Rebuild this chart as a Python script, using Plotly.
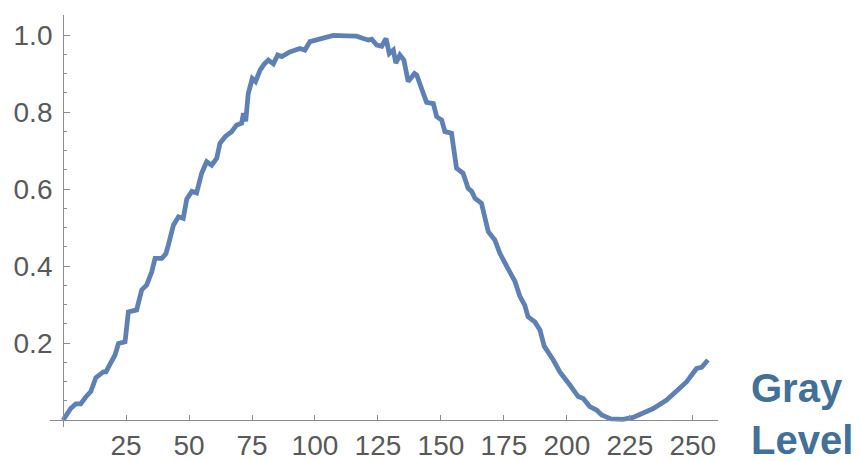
import plotly.graph_objects as go

# Normalized response versus gray level
gray_level = [0, 3, 5, 7, 9, 11, 13, 16, 17, 19, 20.6, 22, 24.6, 25.9, 29.2, 31.2, 33.2,
              35.2, 36.5, 39.2, 40.8, 41.8, 43.8, 45.8, 47.7, 49.1, 51.1, 53, 55, 57, 59,
              61, 62.3, 64.3, 66.9, 68.9, 70.9, 71.6, 72.5, 73.5, 75.1, 76.4, 78.2, 79.9,
              81.5, 83.5, 85.2, 86.8, 90, 94, 96, 98, 102, 107.3, 112.6, 116.5, 119.2,
              121.2, 122.5, 124.5, 126.5, 128.2, 129.5, 131.1, 132.1, 133.7, 135.3, 137,
              139.5, 140.4, 141.7, 144.3, 147, 148.3, 150.3, 151.6, 154.2, 156.2, 158.8,
              160.8, 162.2, 163.5, 166.1, 168.8, 171.4, 173.4, 175.4, 177.4, 179.4, 181.3,
              183.3, 184.6, 187.3, 189.3, 191, 194.6, 197.2, 201.2, 204.5, 206.5, 209.1,
              211.8, 213.8, 217.5, 222.3, 226.3, 230.3, 234.3, 239.6, 244.2, 247.5, 251.5,
              253.5, 256]
response = [0.0, 0.03, 0.042, 0.042, 0.06, 0.074, 0.11, 0.125, 0.125, 0.151, 0.169, 0.199,
            0.203, 0.281, 0.286, 0.338, 0.351, 0.385, 0.42, 0.42, 0.432, 0.455, 0.506, 0.528,
            0.524, 0.574, 0.594, 0.59, 0.641, 0.671, 0.662, 0.68, 0.719, 0.736, 0.749, 0.766,
            0.771, 0.797, 0.776, 0.848, 0.887, 0.879, 0.909, 0.925, 0.935, 0.925, 0.948,
            0.944, 0.956, 0.965, 0.961, 0.983, 0.991, 0.999, 0.998, 0.997, 0.991, 0.987,
            0.989, 0.974, 0.971, 0.991, 0.952, 0.961, 0.927, 0.948, 0.935, 0.879, 0.9, 0.896,
            0.872, 0.825, 0.822, 0.788, 0.779, 0.749, 0.745, 0.654, 0.641, 0.602, 0.594,
            0.576, 0.563, 0.489, 0.468, 0.433, 0.408, 0.381, 0.36, 0.322, 0.298, 0.268,
            0.255, 0.234, 0.192, 0.156, 0.125, 0.091, 0.061, 0.056, 0.035, 0.026, 0.013,
            0.003, 0.002, 0.007, 0.017, 0.03, 0.052, 0.078, 0.099, 0.134, 0.137, 0.156]

x_ticks = [25, 50, 75, 100, 125, 150, 175, 200, 225, 250]
y_ticks = [0.2, 0.4, 0.6, 0.8, 1.0]
y_tick_text = ["0.2", "0.4", "0.6", "0.8", "1.0"]
axis_title = "Gray<br>Level"

x_range = [-5.2, 260]
y_range = [-0.018, 1.052]

fig = go.Figure(go.Scatter(
    x=gray_level, y=response, mode="lines",
    line=dict(color="#5E81B5", width=4.8),
    hoverinfo="skip",
))

tick_font = dict(family="Liberation Sans, Arial, sans-serif", size=28, color="#595959")
axis_color = "#8c8c8c"

fig.update_layout(
    width=861, height=461,
    margin=dict(l=50, r=143, t=15, b=34),
    paper_bgcolor="white", plot_bgcolor="white",
    showlegend=False,
    xaxis=dict(
        range=x_range, showgrid=False, zeroline=False,
        showline=True, linecolor=axis_color, linewidth=1,
        anchor="free", position=(0 - y_range[0]) / (y_range[1] - y_range[0]),
        tickvals=x_ticks, ticks="inside", ticklen=5, tickcolor=axis_color,
        tickfont=tick_font, automargin=False,
    ),
    yaxis=dict(
        range=y_range, showgrid=False, zeroline=False,
        showline=True, linecolor=axis_color, linewidth=1,
        anchor="free", position=(0 - x_range[0]) / (x_range[1] - x_range[0]),
        tickvals=y_ticks, ticktext=y_tick_text,
        ticks="inside", ticklen=6, tickcolor=axis_color,
        minor=dict(dtick=0.05, tick0=0, ticks="inside", ticklen=3, tickcolor=axis_color),
        tickfont=tick_font, ticklabelstandoff=5, automargin=False,
    ),
    annotations=[dict(
        text=axis_title, xref="paper", yref="paper",
        x=1.047, y=-0.09, xanchor="left", yanchor="bottom", align="left",
        showarrow=False,
        font=dict(family="Liberation Sans, Arial, sans-serif", size=40,
                  color="#41709A", weight="bold"),
    )],
)

fig.write_html("out.html")
